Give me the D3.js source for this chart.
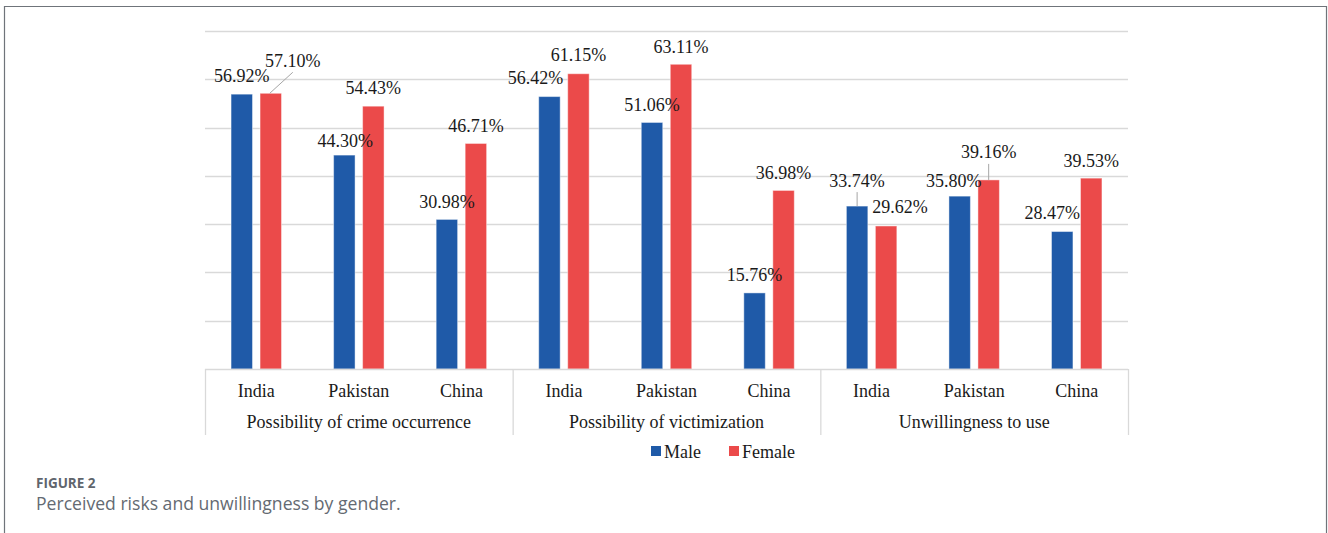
<!DOCTYPE html>
<html>
<head>
<meta charset="utf-8">
<script src="https://cdn.jsdelivr.net/npm/d3@7"></script>
<style>
  html, body { margin: 0; padding: 0; background: #fff; }
  svg { display: block; }
</style>
</head>
<body>
<div id="div_chart"></div>
<script>
// Data
var groups = ["Possibility of crime occurrence", "Possibility of victimization", "Unwillingness to use"];
var countries = ["India", "Pakistan", "China"];
var series = ["Male", "Female"];
var maleValues = [56.92, 44.30, 30.98, 56.42, 51.06, 15.76, 33.74, 35.80, 28.47];
var femaleValues = [57.10, 54.43, 46.71, 61.15, 63.11, 36.98, 29.62, 39.16, 39.53];
var yTicks = [0, 10, 20, 30, 40, 50, 60, 70];

// Label nudges (px) relative to the top of each bar, Excel style placement
var maleNudge = [[0, -19], [1, -15], [0, -18], [-14, -19], [0, -18], [0, -18], [0, -26], [-6, -16], [-10, -19]];
var femaleNudge = [[22, -33], [0, -19], [0, -18], [0, -19], [0, -18], [0, -18], [14, -19], [0, -28], [0, -18]];
var maleLeader = [false, false, false, false, false, false, true, false, false];
var femaleLeader = [true, false, false, false, false, false, false, true, false];

// Basic sizes
var svgWidth = 1328, svgHeight = 533;
var plot = {left: 205, right: 1128, top: 31, bottom: 369};
var colors = {Male: "#1f5aa8", Female: "#eb4a4a"};
var serif = "'Liberation Serif', 'Times New Roman', serif";

var svg = d3.select("#div_chart")
    .append("svg")
        .attr("width", svgWidth)
        .attr("height", svgHeight);

// Outer figure frame
svg.append("path")
    .attr("d", "M4.5,540 V6.5 H1326.5 V540")
    .attr("fill", "none")
    .attr("stroke", "#6f747a")
    .attr("stroke-width", 1.2);

// Flatten categories
var cats = [];
groups.forEach((g, gi) => countries.forEach((c, ci) => cats.push({group: g, country: c, i: gi * countries.length + ci})));

var x0 = d3.scaleBand()
    .domain(cats.map(d => d.i))
    .range([plot.left, plot.right]);
var bw = x0.bandwidth();

var x1 = d3.scaleBand()
    .domain(series)
    .range([bw / 2 - 29, bw / 2 + 29])
    .paddingInner(0.26)
    .paddingOuter(0.13);

var y = d3.scaleLinear()
    .domain([0, 70])
    .range([plot.bottom, plot.top]);

// Gridlines
svg.append("g")
    .selectAll("line")
    .data(yTicks.slice(1))
    .join("line")
        .attr("x1", plot.left)
        .attr("x2", plot.right)
        .attr("y1", d => Math.round(y(d)) + 0.5)
        .attr("y2", d => Math.round(y(d)) + 0.5)
        .attr("stroke", "#d9d9d9")
        .attr("stroke-width", 1.3);

// Bars
var barData = [];
cats.forEach(c => {
    barData.push({cat: c, s: "Male", v: maleValues[c.i], nudge: maleNudge[c.i], leader: maleLeader[c.i]});
    barData.push({cat: c, s: "Female", v: femaleValues[c.i], nudge: femaleNudge[c.i], leader: femaleLeader[c.i]});
});

svg.append("g")
    .selectAll("rect")
    .data(barData)
    .join("rect")
        .attr("x", d => x0(d.cat.i) + x1(d.s))
        .attr("y", d => y(d.v))
        .attr("width", x1.bandwidth())
        .attr("height", d => y(0) - y(d.v))
        .attr("fill", d => colors[d.s])
        .attr("stroke", "#ffffff")
        .attr("stroke-opacity", 0.45)
        .attr("stroke-width", 1);

// Category axis: baseline and separators
var axisG = svg.append("g")
    .attr("stroke", "#d9d9d9")
    .attr("stroke-width", 1.3);
axisG.append("line")
    .attr("x1", plot.left).attr("x2", plot.right)
    .attr("y1", plot.bottom + 0.5).attr("y2", plot.bottom + 0.5);
var sepIdx = d3.range(0, cats.length + 1, countries.length);
axisG.selectAll(".sep")
    .data(sepIdx)
    .join("line")
        .attr("class", "sep")
        .attr("x1", d => (d < cats.length ? x0(d) : plot.right) + 0.5)
        .attr("x2", d => (d < cats.length ? x0(d) : plot.right) + 0.5)
        .attr("y1", plot.bottom)
        .attr("y2", plot.bottom + 66);

svg.append("g")
    .selectAll("text")
    .data(cats)
    .join("text")
        .attr("x", d => x0(d.i) + bw / 2)
        .attr("y", plot.bottom + 28)
        .attr("text-anchor", "middle")
        .style("font", "18px " + serif)
        .attr("fill", "#1a1a1a")
        .text(d => d.country);

svg.append("g")
    .selectAll("text")
    .data(groups)
    .join("text")
        .attr("x", (d, i) => (x0(i * 3) + x0(i * 3 + 2) + bw) / 2)
        .attr("y", plot.bottom + 59)
        .attr("text-anchor", "middle")
        .style("font", "18px " + serif)
        .attr("fill", "#1a1a1a")
        .text(d => d);

// Leader lines
svg.append("g")
    .selectAll("line")
    .data(barData.filter(d => d.leader))
    .join("line")
        .attr("x1", d => x0(d.cat.i) + x1(d.s) + x1.bandwidth() / 2 + (d.nudge[0] ? -1 : 0))
        .attr("y1", d => y(d.v))
        .attr("x2", d => x0(d.cat.i) + x1(d.s) + x1.bandwidth() / 2 + d.nudge[0])
        .attr("y2", d => y(d.v) + d.nudge[1] + 12)
        .attr("stroke", "#a6a6a6")
        .attr("stroke-width", 1);

// Value labels
svg.append("g")
    .selectAll("text")
    .data(barData)
    .join("text")
        .attr("x", d => x0(d.cat.i) + x1(d.s) + x1.bandwidth() / 2 + d.nudge[0])
        .attr("y", d => y(d.v) + d.nudge[1] + 6.5)
        .attr("text-anchor", "middle")
        .style("font", "18px " + serif)
        .attr("fill", "#1a1a1a")
        .text(d => d.v.toFixed(2) + "%");

// Legend
var legend = svg.append("g")
    .attr("transform", "translate(651,446)");
var legendX = [0, 78];
var item = legend.selectAll("g")
    .data(series)
    .join("g")
        .attr("transform", (d, i) => "translate(" + legendX[i] + ",0)");
item.append("rect")
    .attr("width", 10)
    .attr("height", 10)
    .attr("fill", d => colors[d]);
item.append("text")
    .attr("x", 13)
    .attr("y", 11.5)
    .style("font", "18px " + serif)
    .attr("fill", "#1a1a1a")
    .text(d => d);

// Caption
svg.append("text")
    .attr("x", 36)
    .attr("y", 487.5)
    .style("font", "bold 13.5px 'Open Sans', sans-serif")
    .attr("fill", "#5f656d")
    .text("FIGURE 2");
svg.append("text")
    .attr("x", 36)
    .attr("y", 510)
    .style("font", "17.6px 'Open Sans', sans-serif")
    .attr("fill", "#646a72")
    .text("Perceived risks and unwillingness by gender.");
</script>
</body>
</html>
